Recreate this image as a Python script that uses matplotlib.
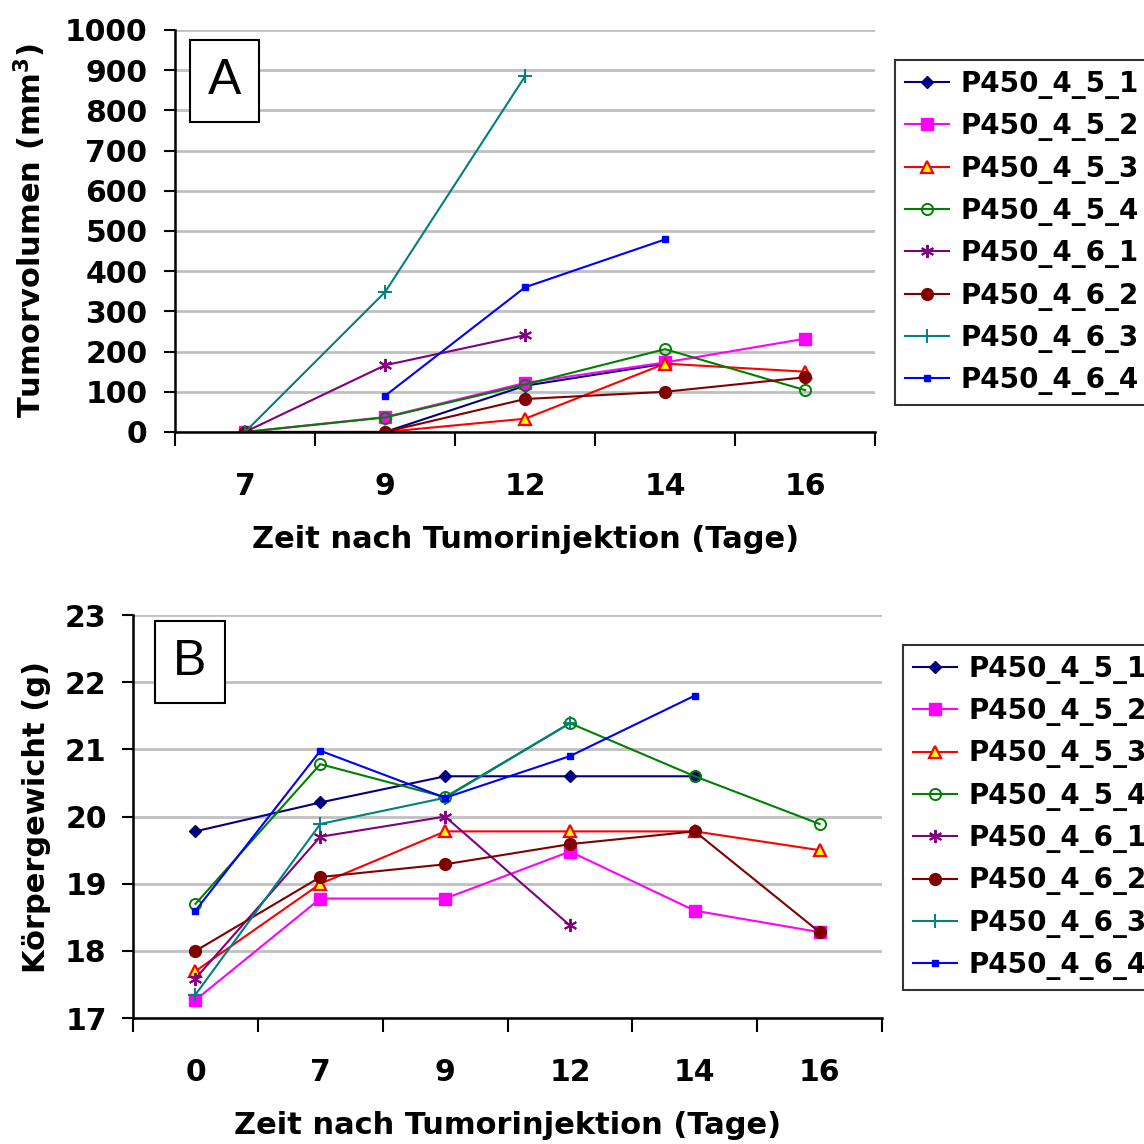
import numpy as np
import matplotlib
matplotlib.use("Agg")
import matplotlib.pyplot as plt

# Panel A: Tumorvolumen
tage_a = ["7", "9", "12", "14", "16"]
a_4_5_1 = [0, 0, 115, 170, np.nan]
a_4_5_2 = [0, 37, 122, 173, 232]
a_4_5_3 = [0, 0, 33, 170, 150]
a_4_5_4 = [0, 36, 118, 206, 104]
a_4_6_1 = [0, 166, 241, np.nan, np.nan]
a_4_6_2 = [0, 0, 82, 100, 136]
a_4_6_3 = [0, 348, 885, np.nan, np.nan]
a_4_6_4 = [np.nan, 90, 360, 479, np.nan]

# Panel B: Koerpergewicht
tage_b = ["0", "7", "9", "12", "14", "16"]
b_4_5_1 = [19.78, 20.21, 20.6, 20.6, 20.6, np.nan]
b_4_5_2 = [17.27, 18.78, 18.78, 19.48, 18.6, 18.28]
b_4_5_3 = [17.7, 19.0, 19.78, 19.78, 19.78, 19.5]
b_4_5_4 = [18.7, 20.78, 20.29, 21.39, 20.6, 19.89]
b_4_6_1 = [17.59, 19.7, 20.0, 18.38, np.nan, np.nan]
b_4_6_2 = [18.0, 19.1, 19.29, 19.59, 19.78, 18.28]
b_4_6_3 = [17.35, 19.89, 20.28, 21.39, np.nan, np.nan]
b_4_6_4 = [18.6, 20.98, 20.28, 20.9, 21.8, np.nan]

namen = ["P450_4_5_1", "P450_4_5_2", "P450_4_5_3", "P450_4_5_4",
         "P450_4_6_1", "P450_4_6_2", "P450_4_6_3", "P450_4_6_4"]

# stil je serie: farbe, marker, groesse, fuellung, randfarbe
stile = [
    dict(color="#000080", marker="D", markersize=6.5, markerfacecolor="#000080", markeredgecolor="#000080"),
    dict(color="#ff00ff", marker="s", markersize=8, markerfacecolor="#ff00ff", markeredgecolor="#ff00ff"),
    dict(color="#ff0000", marker="^", markersize=8, markerfacecolor="#ffff00", markeredgecolor="#ff0000", markeredgewidth=1.6),
    dict(color="#008000", marker="o", markersize=8, markerfacecolor="none", markeredgecolor="#008000", markeredgewidth=1.4),
    dict(color="#800080", marker=(6, 2, 0), markersize=9.5, markeredgecolor="#800080", markeredgewidth=1.4),
    dict(color="#800000", marker="o", markersize=8.5, markerfacecolor="#800000", markeredgecolor="#800000"),
    dict(color="#008080", marker="+", markersize=9.5, markeredgecolor="#008080", markeredgewidth=1.4),
    dict(color="#0000ff", marker="s", markersize=4.5, markerfacecolor="#0000ff", markeredgecolor="#0000ff"),
]


def panel(ax, tage, serien, ymax, ystep, ymin, ylabel, ylpad, ytpad, buchstabe, bpos):
    n = len(tage)
    x = np.arange(n) + 0.5
    for werte, name, st in zip(serien, namen, stile):
        ax.plot(x, werte, label=name, linewidth=1.5, **st)
    ax.set_xlim(0, n)
    ax.set_ylim(ymin, ymax)
    ax.set_yticks(np.arange(ymin, ymax + ystep / 2, ystep))
    ax.yaxis.grid(True, color="#c0c0c0", linewidth=2)
    ax.set_axisbelow(True)
    # kategorieachse: striche zwischen den kategorien, beschriftung in der mitte
    ax.set_xticks(np.arange(n + 1))
    ax.set_xticklabels([])
    ax.set_xticks(x, minor=True)
    ax.set_xticklabels(tage, minor=True, fontsize=21.5, fontweight="bold")
    ax.tick_params(axis="x", which="major", length=10, width=1.5, direction="out")
    ax.tick_params(axis="x", which="minor", length=0, pad=29)
    ax.tick_params(axis="y", length=8, width=1.5, direction="out", pad=ytpad)
    for lab in ax.get_yticklabels():
        lab.set_fontsize(21.5)
        lab.set_fontweight("bold")
    for s in ["top", "right"]:
        ax.spines[s].set_visible(False)
    for s in ["left", "bottom"]:
        ax.spines[s].set_linewidth(1.8)
    ax.set_xlabel("Zeit nach Tumorinjektion (Tage)", fontsize=22, fontweight="bold", labelpad=17)
    ax.set_ylabel(ylabel, fontsize=22, fontweight="bold", labelpad=ylpad)
    ax.text(bpos[0], bpos[1], buchstabe, transform=ax.transAxes, fontsize=36, ha="center", va="center",
            family="Liberation Sans",
            bbox=dict(boxstyle="square,pad=0.36", facecolor="white", edgecolor="black", linewidth=1.5))


def legende(ax, oben):
    leg = ax.legend(loc="upper left", bbox_to_anchor=oben, prop=dict(size=20, weight="bold"),
                    frameon=True, fancybox=False, edgecolor="black", handlelength=1.6,
                    labelspacing=0.48, borderpad=0.35, handletextpad=0.4, borderaxespad=0)
    leg.get_frame().set_linewidth(1.5)


fig = plt.figure(figsize=(11.44, 11.44), dpi=100)

ax1 = fig.add_axes([0.153, 0.6224, 0.612, 0.3514])
panel(ax1, tage_a, [a_4_5_1, a_4_5_2, a_4_5_3, a_4_5_4, a_4_6_1, a_4_6_2, a_4_6_3, a_4_6_4],
      1000, 100, 0, "Tumorvolumen (mm$^\\mathbf{3}$)", 12, 12, "A", (0.071, 0.873))
legende(ax1, (1.0286, 0.925))

ax2 = fig.add_axes([0.1163, 0.110, 0.6547, 0.3524])
panel(ax2, tage_b, [b_4_5_1, b_4_5_2, b_4_5_3, b_4_5_4, b_4_6_1, b_4_6_2, b_4_6_3, b_4_6_4],
      23, 1, 17, "Körpergewicht (g)", 10, 11, "B", (0.076, 0.883))
legende(ax2, (1.028, 0.9256))

fig.savefig("out.png", dpi=100)
